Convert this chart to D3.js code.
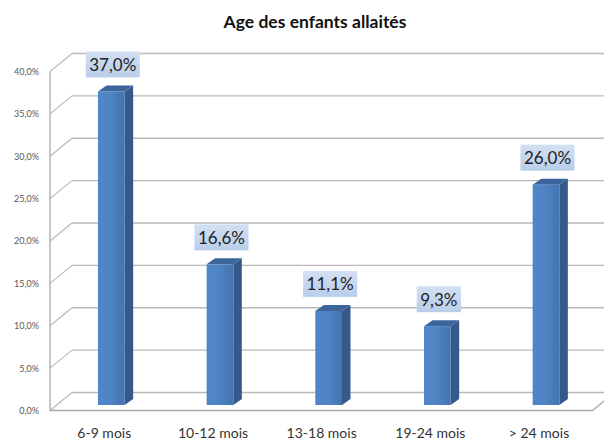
<!DOCTYPE html>
<html><head><meta charset="utf-8">
<script src="https://cdn.jsdelivr.net/npm/d3@7"></script>
<style>
html,body{margin:0;padding:0;background:#fff;}
svg{display:block;font-family:Lato,"Open Sans",sans-serif;}
</style></head>
<body>
<svg id="chart" width="604" height="443"></svg>
<script>
const title = "Age des enfants allaités";
const categories = ["6-9 mois", "10-12 mois", "13-18 mois", "19-24 mois", "> 24 mois"];
const values = [37.0, 16.6, 11.1, 9.3, 26.0];
const yTicks = [0, 5, 10, 15, 20, 25, 30, 35, 40];

const svg = d3.select("#chart");
const W = 604, H = 443;

// geometry of the 3D frame
const backDX = 22, backDY = -18;      // front floor edge -> back wall
const barDX = 8.5, barDY = -6;        // bar depth
const barFrontDY = 12.5;              // bar front plane below back wall
const barW = 26.7;

// y scale for bar front plane
const y = d3.scaleLinear().domain([0, 40]).range([405, 405 - 40 * 8.475]);
const yBack = v => y(v) - barFrontDY;
const yFront = d3.scaleLinear().domain([0, 40]).range([y(0) + 5.5, y(40) + 5.5]);

// x scale: centres of bar front faces
const x = d3.scalePoint().domain(categories).range([111.3, 546]);

const fmt = v => d3.format(".1f")(v).replace(".", ",") + "%";

// defs: gradients
const defs = svg.append("defs");
const gFront = defs.append("linearGradient").attr("id", "gFront").attr("x1", 0).attr("x2", 1).attr("y1", 0).attr("y2", 0);
gFront.append("stop").attr("offset", "0%").attr("stop-color", "#5086c8");
gFront.append("stop").attr("offset", "45%").attr("stop-color", "#4f84c4");
gFront.append("stop").attr("offset", "100%").attr("stop-color", "#4473b0");
const gLab = defs.append("linearGradient").attr("id", "gLab").attr("x1", 0).attr("x2", 0).attr("y1", 0).attr("y2", 1);
gLab.append("stop").attr("offset", "0%").attr("stop-color", "#d3e0f2");
gLab.append("stop").attr("offset", "100%").attr("stop-color", "#b9cdea");

// title
svg.append("text").attr("x", 315).attr("y", 28).attr("text-anchor", "middle")
  .attr("font-weight", "bold").attr("font-size", 17.5).attr("fill", "#111")
  .text(title);

const gridColor = "#b9b9b9";
const frontX = 50, backX = frontX + backDX;

// back wall gridlines
const grid = svg.append("g");
grid.selectAll("line.h").data(yTicks).join("line")
  .attr("x1", backX).attr("x2", W + 20)
  .attr("y1", d => yBack(d)).attr("y2", d => yBack(d))
  .attr("stroke", gridColor).attr("stroke-width", 1.4);
// side diagonals from front axis to back wall
grid.selectAll("line.d").data(yTicks).join("line")
  .attr("x1", frontX).attr("y1", d => yFront(d))
  .attr("x2", backX).attr("y2", d => yBack(d))
  .attr("stroke", gridColor).attr("stroke-width", 1.2);

// front vertical axis line
svg.append("line").attr("x1", frontX).attr("x2", frontX)
  .attr("y1", yFront(40)).attr("y2", yFront(0))
  .attr("stroke", "#a9a9a9").attr("stroke-width", 1.3);

// front floor edge
const floorRight = 592.5;
svg.append("path")
  .attr("d", `M${frontX},${yFront(0)}L${floorRight},${yFront(0)}L${floorRight + backDX},${yFront(0) + backDY}`)
  .attr("fill", "none").attr("stroke", "#a9a9a9").attr("stroke-width", 1.3);

// y axis labels
const yAxis = d3.axisLeft(yFront).tickValues(yTicks).tickFormat(fmt).tickSize(0).tickPadding(0);
const ya = svg.append("g").attr("transform", "translate(39,0)").call(yAxis);
ya.select(".domain").remove();
ya.selectAll("text").attr("font-size", 9).attr("fill", "#595959").attr("font-family", "Lato");

// bars
const bars = svg.append("g").selectAll("g").data(categories.map((c, i) => ({c, v: values[i]}))).join("g");
bars.each(function(d) {
  const g = d3.select(this);
  const x0 = x(d.c) - barW / 2, x1 = x0 + barW;
  const yt = y(d.v), yb = y(0);
  g.append("path")
    .attr("d", `M${x1},${yt}L${x1 + barDX},${yt + barDY}L${x1 + barDX},${yb + barDY}L${x1},${yb}Z`)
    .attr("fill", "#35598a");
  g.append("path")
    .attr("d", `M${x0},${yt}L${x0 + barDX},${yt + barDY}L${x1 + barDX},${yt + barDY}L${x1},${yt}Z`)
    .attr("fill", "#3c659c");
  g.append("rect").attr("x", x0).attr("y", yt).attr("width", barW).attr("height", yb - yt)
    .attr("fill", "url(#gFront)");
});

// data labels
const labels = svg.append("g").selectAll("g").data(categories.map((c, i) => ({c, v: values[i]}))).join("g");
labels.each(function(d) {
  const g = d3.select(this);
  const cx = x(d.c) + 1.5;
  const by = y(d.v) - 14;
  const t = g.append("text").attr("x", cx).attr("y", by - 6.5).attr("text-anchor", "middle")
    .attr("font-size", 17).attr("fill", "#222").text(fmt(d.v));
  const bb = t.node().getBBox();
  g.insert("rect", "text").attr("x", bb.x - 3.5).attr("y", by - 26).attr("width", bb.width + 7).attr("height", 26)
    .attr("fill", "url(#gLab)");
});

// x axis labels
const xAxis = d3.axisBottom(d3.scalePoint().domain(categories).range([111.3 - 7.5, 546 - 7.5])).tickSize(0).tickPadding(0);
const xa = svg.append("g").attr("transform", "translate(0,428)").call(xAxis);
xa.select(".domain").remove();
xa.selectAll("text").attr("font-size", 14).attr("fill", "#333").attr("font-family", "Lato");
</script>
</body></html>
